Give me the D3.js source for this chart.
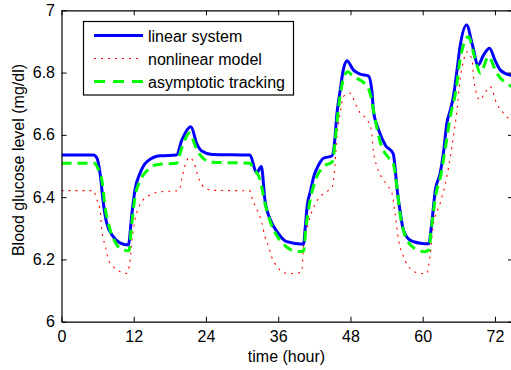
<!DOCTYPE html>
<html lang="en">
<head>
<meta charset="UTF-8">
<title>Blood glucose level</title>
<script src="https://d3js.org/d3.v7.min.js"></script>
<style>
    body { margin: 0; padding: 0; background: #fff; overflow: hidden; }
    svg { display: block; font-family: Arial, "Liberation Sans", sans-serif; }
    .tick-label { font-size: 16px; fill: #000; }
    .axis-title { font-size: 16px; fill: #000; }
    .legend-text { font-size: 16px; fill: #000; }
</style>
</head>
<body>
<script>
    // time (hour) and glucose values
    const xTicks = [0, 12, 24, 36, 48, 60, 72];
    const yTicks = [6, 6.2, 6.4, 6.6, 6.8, 7];

    const tLinear = [0, 5.3, 5.9, 6.4, 6.95, 7.5, 8.6, 9.7, 11.1, 11.7, 12.2, 13.05, 14.2, 16.4, 19.1, 20.0, 21.5, 22.5, 23.3, 25,
        31.3, 32.4, 33.2, 33.8, 34.7, 35.8, 37.4, 40.2, 40.5, 40.8, 41.4, 41.9, 42.7, 43.5, 44.9, 45.4, 45.7, 46.3, 46.8, 47.4,
        48.5, 49.6, 51.0, 51.6, 51.8, 52.7, 53.8, 55.1, 55.4, 55.7, 56.3, 56.8, 57.9, 59.6, 61.0, 61.5, 62.1, 62.9, 63.5, 64.0,
        64.6, 65.1, 65.7, 66.2, 67.3, 68.2, 69.2, 70.1, 71.1, 72.0, 72.9, 74.5, 76];
    const linear = [6.535, 6.535, 6.525, 6.477, 6.381, 6.317, 6.273, 6.253, 6.246, 6.348, 6.423, 6.477, 6.514, 6.533, 6.535, 6.584, 6.626, 6.570, 6.548, 6.537,
        6.535, 6.478, 6.498, 6.39, 6.327, 6.289, 6.257, 6.249, 6.305, 6.37, 6.423, 6.466, 6.503, 6.525, 6.532, 6.584, 6.658, 6.744, 6.808, 6.838,
        6.808, 6.795, 6.789, 6.733, 6.68, 6.615, 6.567, 6.54, 6.498, 6.434, 6.348, 6.294, 6.262, 6.252, 6.25, 6.316, 6.423, 6.477, 6.551, 6.636,
        6.68, 6.723, 6.808, 6.883, 6.953, 6.894, 6.824, 6.856, 6.878, 6.84, 6.808, 6.792, 6.788];

    const tNonlinear = [0, 5.4, 5.7, 6.4, 6.7, 7.3, 7.8, 8.6, 9.7, 10.8, 11.4, 11.7, 12.2, 13.0, 14.2, 16.4, 19.5, 20.0, 20.5, 21.3,
        22.0, 22.9, 23.8, 25.0, 31.3, 31.6, 32.2, 32.7, 33.3, 33.8, 34.4, 34.9, 35.8, 36.6, 37.7, 38.8, 39.9, 40.2, 41.0, 41.8,
        42.9, 44.0, 45.0, 45.4, 45.7, 46.3, 46.8, 48.0, 48.8, 49.6, 50.7, 51.5, 51.8, 52.4, 53.5, 54.3, 54.9, 55.4, 56.0, 56.8,
        58.2, 59.6, 60.7, 61.2, 61.8, 62.9, 64.0, 64.6, 65.1, 65.7, 66.2, 66.8, 67.4, 68.2, 68.5, 69.5, 70.2, 71.2, 72.3, 73.4, 76];
    const nonlinear = [6.421, 6.421, 6.40, 6.359, 6.294, 6.241, 6.198, 6.177, 6.161, 6.155, 6.198, 6.262, 6.327, 6.375, 6.401, 6.417, 6.421, 6.46, 6.50, 6.528,
        6.51, 6.455, 6.43, 6.422, 6.42, 6.40, 6.37, 6.35, 6.316, 6.273, 6.241, 6.209, 6.177, 6.161, 6.155, 6.155, 6.161, 6.24, 6.316, 6.364,
        6.40, 6.417, 6.434, 6.498, 6.584, 6.67, 6.723, 6.734, 6.70, 6.67, 6.65, 6.613, 6.55, 6.498, 6.455, 6.434, 6.412, 6.348, 6.262, 6.209,
        6.166, 6.155, 6.155, 6.209, 6.316, 6.38, 6.466, 6.53, 6.594, 6.68, 6.776, 6.84, 6.867, 6.84, 6.776, 6.712, 6.73, 6.755, 6.70, 6.67, 6.63];

    const tTracking = [0, 5.5, 6.1, 6.7, 7.3, 8.0, 8.8, 10.0, 11.2, 11.6, 12.2, 13.0, 14.2, 16.0, 19.1, 20.0, 21.3, 22.3, 23.5, 25,
        31.3, 31.8, 33.0, 33.8, 34.7, 35.8, 37.4, 39.0, 40.2, 40.6, 41.2, 42.0, 43.5, 45.0, 45.4, 45.8, 46.4, 47.0, 47.6, 48.2,
        50.8, 51.4, 52.0, 53.0, 54.4, 55.1, 55.6, 56.3, 57.0, 58.6, 60.3, 61.0, 61.5, 62.2, 63.0, 63.7, 64.6, 65.5, 66.2, 67.6,
        68.6, 69.6, 70.9, 72.3, 74.3, 76];
    const tracking = [6.509, 6.509, 6.49, 6.455, 6.36, 6.30, 6.26, 6.232, 6.228, 6.30, 6.40, 6.45, 6.485, 6.505, 6.509, 6.56, 6.606, 6.56, 6.525, 6.512,
        6.509, 6.494, 6.455, 6.38, 6.32, 6.275, 6.24, 6.225, 6.226, 6.30, 6.38, 6.444, 6.498, 6.514, 6.57, 6.65, 6.74, 6.79, 6.803, 6.792,
        6.755, 6.723, 6.66, 6.573, 6.525, 6.509, 6.45, 6.34, 6.28, 6.236, 6.225, 6.23, 6.31, 6.41, 6.47, 6.55, 6.66, 6.74, 6.84, 6.915,
        6.851, 6.798, 6.851, 6.798, 6.76, 6.75];

    const legendLabels = ["linear system", "nonlinear model", "asymptotic tracking"];

    const width = 511, height = 370;
    const margin = { left: 61.5, top: 10.3, right: -2, bottom: 48.3 };
    const innerW = width - margin.left - margin.right;
    const innerH = height - margin.top - margin.bottom;

    const svg = d3.select("body").append("svg")
        .attr("width", width)
        .attr("height", height);

    const x = d3.scaleLinear().domain([0, 75]).range([margin.left, margin.left + innerW]);
    const y = d3.scaleLinear().domain([6, 7]).range([margin.top + innerH, margin.top]);

    svg.append("clipPath").attr("id", "plot-clip")
        .append("rect")
        .attr("x", x(0)).attr("y", y(7))
        .attr("width", x(75) - x(0)).attr("height", y(6) - y(7));

    const plot = svg.append("g").attr("clip-path", "url(#plot-clip)");

    const series = [
        { t: tLinear, v: linear, color: "#0000ff", width: 3, dash: null },
        { t: tNonlinear, v: nonlinear, color: "#ff0000", width: 1.1, dash: "2,5" },
        { t: tTracking, v: tracking, color: "#00ff00", width: 3, dash: "10,6" }
    ];

    const line = d3.line()
        .x(d => x(d[0]))
        .y(d => y(d[1]))
        .curve(d3.curveMonotoneX);

    series.forEach(s => {
        plot.append("path")
            .datum(s.t.map((t, i) => [t, s.v[i]]))
            .attr("fill", "none")
            .attr("stroke", s.color)
            .attr("stroke-width", s.width)
            .attr("stroke-dasharray", s.dash)
            .attr("d", line);
    });

    // axes box, ticks pointing inward
    const xBottom = d3.axisBottom(x).tickValues(xTicks).tickSize(-5).tickSizeOuter(0).tickPadding(8.6).tickFormat(d3.format("d"));
    const xTop = d3.axisTop(x).tickValues(xTicks).tickSize(-5).tickSizeOuter(0).tickFormat("");
    const yLeft = d3.axisLeft(y).tickValues(yTicks).tickSize(-5).tickSizeOuter(0).tickPadding(6.5).tickFormat(d3.format(""));
    const yRight = d3.axisRight(y).tickValues(yTicks).tickSize(-5).tickSizeOuter(0).tickFormat("");

    function styleAxis(g) {
        g.select(".domain").attr("stroke", "#000").attr("stroke-width", 1.2);
        g.selectAll(".tick line").attr("stroke", "#000").attr("stroke-width", 1);
        g.selectAll(".tick text").attr("class", "tick-label").attr("font-family", null).attr("font-size", null);
    }

    svg.append("g").attr("transform", `translate(0,${y(6)})`).call(xBottom).call(styleAxis);
    svg.append("g").attr("transform", `translate(0,${y(7)})`).call(xTop).call(styleAxis);
    svg.append("g").attr("transform", `translate(${x(0)},0)`).call(yLeft).call(styleAxis);
    svg.append("g").attr("transform", `translate(${x(75)},0)`).call(yRight).call(styleAxis);

    svg.append("text")
        .attr("class", "axis-title")
        .attr("x", 286.5)
        .attr("y", 361.5)
        .attr("text-anchor", "middle")
        .text("time (hour)");

    svg.append("text")
        .attr("class", "axis-title")
        .attr("transform", "translate(24,160) rotate(-90)")
        .attr("text-anchor", "middle")
        .text("Blood glucose level (mg/dl)");

    // legend
    const legend = svg.append("g");
    legend.append("rect")
        .attr("x", 83.5).attr("y", 21.5)
        .attr("width", 210).attr("height", 73.5)
        .attr("fill", "#fff").attr("stroke", "#000").attr("stroke-width", 1.2);
    legendLabels.forEach((label, i) => {
        const ly = 35.5 + i * 23;
        const s = series[i];
        legend.append("line")
            .attr("x1", 94).attr("x2", 143)
            .attr("y1", ly).attr("y2", ly)
            .attr("stroke", s.color)
            .attr("stroke-width", s.width)
            .attr("stroke-dasharray", i === 2 ? "11,8" : s.dash);
        legend.append("text")
            .attr("class", "legend-text")
            .attr("x", 148).attr("y", ly + 6)
            .text(label);
    });
</script>
</body>
</html>
